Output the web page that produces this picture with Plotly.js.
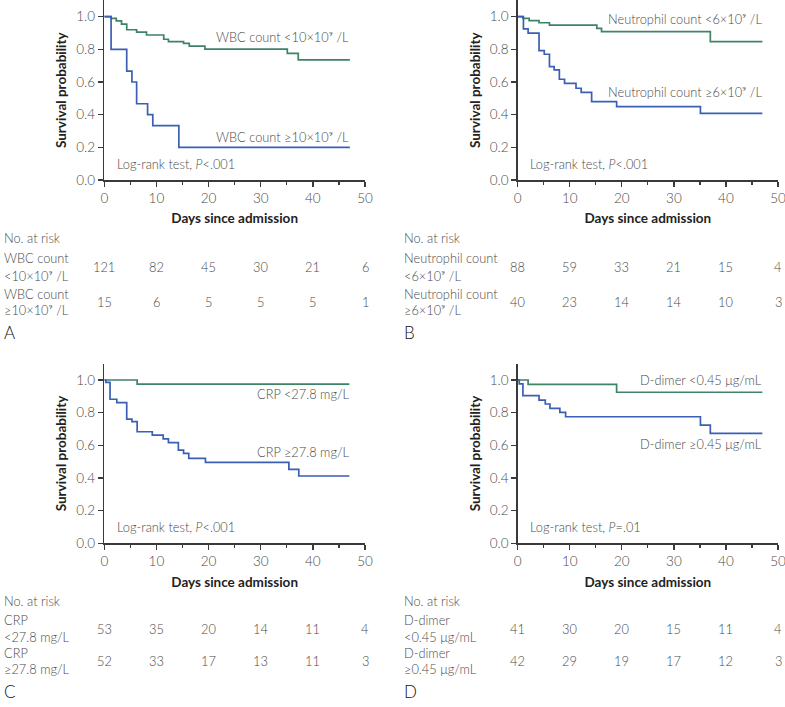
<!DOCTYPE html>
<html>
<head>
<meta charset="utf-8">
<script src="https://cdn.plot.ly/plotly-3.0.1.min.js"></script>
<style>html,body{margin:0;padding:0;background:#fff;}#chart{width:785px;height:707px;}</style>
</head>
<body>
<div id="chart"></div>
<script>
// ---- data ----
const riskDays = [0, 10, 20, 30, 40, 50];

// Panel A: WBC count
const timeA1 = [0, 1.3, 2.3, 3.3, 4.3, 6.2, 8.1, 11.4, 12.3, 15.2, 16.3, 19.3, 35.1, 37.2, 47.1];
const survA1 = [1.0, 0.99, 0.975, 0.955, 0.92, 0.905, 0.888, 0.862, 0.847, 0.837, 0.82, 0.802, 0.776, 0.735, 0.735];
const timeA2 = [0, 1.3, 4.3, 5.3, 6.2, 8.3, 9.3, 14.3, 47.1];
const survA2 = [1.0, 0.8, 0.667, 0.6, 0.467, 0.4, 0.333, 0.2, 0.2];
const riskA1 = [121, 82, 45, 30, 21, 6];
const riskA2 = [15, 6, 5, 5, 5, 1];

// Panel B: Neutrophil count
const timeB1 = [0, 1.0, 2.2, 4.1, 6.1, 15.2, 16.1, 37.0, 47.0];
const survB1 = [1.0, 0.99, 0.976, 0.963, 0.949, 0.929, 0.908, 0.847, 0.847];
const timeB2 = [0, 1.1, 2.0, 4.1, 5.1, 6.1, 7.0, 8.0, 9.0, 11.2, 12.2, 14.2, 19.0, 35.1, 47.0];
const survB2 = [1.0, 0.925, 0.9, 0.792, 0.77, 0.694, 0.674, 0.617, 0.592, 0.562, 0.537, 0.48, 0.449, 0.408, 0.408];
const riskB1 = [88, 59, 33, 21, 15, 4];
const riskB2 = [40, 23, 14, 14, 10, 3];

// Panel C: CRP
const timeC1 = [0, 6.3, 47.0];
const survC1 = [1.0, 0.975, 0.975];
const timeC2 = [0, 0.3, 1.1, 2.4, 4.3, 5.3, 6.3, 9.2, 11.3, 12.3, 14.2, 15.2, 16.2, 19.4, 35.4, 37.3, 47.0];
const survC2 = [1.0, 0.985, 0.882, 0.861, 0.761, 0.745, 0.683, 0.663, 0.639, 0.616, 0.571, 0.551, 0.52, 0.496, 0.453, 0.412, 0.412];
const riskC1 = [53, 35, 20, 14, 11, 4];
const riskC2 = [52, 33, 17, 13, 11, 3];

// Panel D: D-dimer
const timeD1 = [0, 2.0, 19.0, 47.0];
const survD1 = [1.0, 0.973, 0.925, 0.925];
const timeD2 = [0, 0.3, 1.0, 4.1, 5.3, 6.2, 8.1, 9.2, 35.1, 37.0, 47.0];
const survD2 = [1.0, 0.976, 0.904, 0.877, 0.853, 0.826, 0.802, 0.775, 0.724, 0.673, 0.673];
const riskD1 = [41, 30, 20, 15, 11, 4];
const riskD2 = [42, 29, 19, 17, 12, 3];

// labels
const curveLabels = [
  ['WBC count &lt;10×10⁹ /L', 'WBC count ≥10×10⁹ /L', 'Log-rank test, <i>P</i>&lt;.001'],
  ['Neutrophil count &lt;6×10⁹ /L', 'Neutrophil count ≥6×10⁹ /L', 'Log-rank test, <i>P</i>&lt;.001'],
  ['CRP &lt;27.8 mg/L', 'CRP ≥27.8 mg/L', 'Log-rank test, <i>P</i>&lt;.001'],
  ['D-dimer &lt;0.45 μg/mL', 'D-dimer ≥0.45 μg/mL', 'Log-rank test, <i>P</i>=.01']
];
const curveLabelY = [[0.877, 0.261], [0.984, 0.541], [0.912, 0.561], [1.0, 0.606]];
const riskLabels = [
  [['WBC count', '&lt;10×10⁹ /L'], ['WBC count', '≥10×10⁹ /L']],
  [['Neutrophil count', '&lt;6×10⁹ /L'], ['Neutrophil count', '≥6×10⁹ /L']],
  [['CRP', '&lt;27.8 mg/L'], ['CRP', '≥27.8 mg/L']],
  [['D-dimer', '&lt;0.45 μg/mL'], ['D-dimer', '≥0.45 μg/mL']]
];
const panelLetters = ['A', 'B', 'C', 'D'];

// ---- layout geometry ----
const W = 785, H = 707;
const FONT = 'Lato, "Open Sans", sans-serif';
const FS = 12.8;
const FW = 300;
const TXT = '#4a4a4a';
const AX = '#3a3a3a';
const GREEN = '#3f8366';
const BLUE = '#3a5fb5';
const tf = () => ({family: FONT, size: FS, color: TXT, weight: FW});

const panels = [
  {t1: timeA1, s1: survA1, t2: timeA2, s2: survA2, r1: riskA1, r2: riskA2, x0: 104.3, x1: 365, yb: 180, labX: 2, head: 238, row1: [258, 276, 267], row2: [294, 310, 302], letY: 333},
  {t1: timeB1, s1: survB1, t2: timeB2, s2: survB2, r1: riskB1, r2: riskB2, x0: 517.7, x1: 778, yb: 180, labX: 402, head: 238, row1: [258, 276, 267], row2: [294, 310, 302], letY: 333},
  {t1: timeC1, s1: survC1, t2: timeC2, s2: survC2, r1: riskC1, r2: riskC2, x0: 104.3, x1: 365, yb: 543.3, labX: 2, head: 601, row1: [620, 637, 629], row2: [653, 669, 661], letY: 691},
  {t1: timeD1, s1: survD1, t2: timeD2, s2: survD2, r1: riskD1, r2: riskD2, x0: 517.7, x1: 778, yb: 543.3, labX: 402, head: 601, row1: [620, 637, 629], row2: [653, 669, 661], letY: 691}
];
const PX_PER_UNIT = 163.3;
const YMAX = 1.1;

const traces = [];
const annotations = [];
const layout = {
  width: W, height: H,
  margin: {l: 0, r: 0, t: 0, b: 0},
  paper_bgcolor: '#fff', plot_bgcolor: '#fff',
  showlegend: false,
  font: tf(),
  annotations: annotations
};

function paperText(x, y, text, font) {
  annotations.push({xref: 'paper', yref: 'paper', x: x / W, y: 1 - y / H, text: text, showarrow: false, xanchor: 'left', yanchor: 'middle', align: 'left', font: font || tf()});
}

panels.forEach((p, i) => {
  const n = i + 1;
  const xa = 'xaxis' + (n === 1 ? '' : n);
  const ya = 'yaxis' + (n === 1 ? '' : n);
  const xr = 'x' + (n === 1 ? '' : n);
  const yr = 'y' + (n === 1 ? '' : n);
  const yTopPx = p.yb - YMAX * PX_PER_UNIT;

  layout[xa] = {
    domain: [p.x0 / W, p.x1 / W], anchor: yr, range: [0, 50],
    tickvals: riskDays, ticks: 'outside', ticklen: 5, tickwidth: 1.3, tickcolor: AX,
    minor: {dtick: 5, tick0: 0, ticks: 'outside', ticklen: 3, tickwidth: 1.2, tickcolor: AX},
    showline: true, linecolor: AX, linewidth: 1.5, showgrid: false, zeroline: false,
    tickfont: {family: FONT, size: 13.5, color: TXT, weight: FW}, ticklabeloverflow: 'allow',
    title: {text: 'Days since admission', font: {family: FONT, size: 13.5, color: '#222', weight: 'bold'}, standoff: 9},
    fixedrange: true
  };
  layout[ya] = {
    domain: [1 - p.yb / H, Math.min(1, 1 - yTopPx / H)], anchor: xr, range: [0, YMAX],
    tickvals: [0, 0.2, 0.4, 0.6, 0.8, 1.0], tickformat: '.1f',
    ticks: 'outside', ticklen: 5, tickwidth: 1.3, tickcolor: AX,
    showline: true, linecolor: AX, linewidth: 1.5, showgrid: false, zeroline: false,
    tickfont: {family: FONT, size: 13.5, color: TXT, weight: FW},
    title: {text: 'Survival probability', font: {family: FONT, size: 13.5, color: '#222', weight: 'bold'}, standoff: 6},
    fixedrange: true
  };

  traces.push({x: p.t1, y: p.s1, xaxis: xr, yaxis: yr, mode: 'lines', line: {shape: 'hv', color: GREEN, width: 1.7}, hoverinfo: 'skip'});
  traces.push({x: p.t2, y: p.s2, xaxis: xr, yaxis: yr, mode: 'lines', line: {shape: 'hv', color: BLUE, width: 1.7}, hoverinfo: 'skip'});

  // curve labels
  annotations.push({xref: xr, yref: yr, x: 47.3, y: curveLabelY[i][0], text: curveLabels[i][0], showarrow: false, xanchor: 'right', yanchor: 'middle', font: tf()});
  annotations.push({xref: xr, yref: yr, x: 47.3, y: curveLabelY[i][1], text: curveLabels[i][1], showarrow: false, xanchor: 'right', yanchor: 'middle', font: tf()});
  annotations.push({xref: xr, yref: yr, x: 2.0, y: 0.10, text: curveLabels[i][2], showarrow: false, xanchor: 'left', yanchor: 'middle', font: tf()});

  // risk table
  paperText(p.labX, p.head, 'No. at risk');
  paperText(p.labX, p.row1[0], riskLabels[i][0][0]);
  paperText(p.labX, p.row1[1], riskLabels[i][0][1]);
  paperText(p.labX, p.row2[0], riskLabels[i][1][0]);
  paperText(p.labX, p.row2[1], riskLabels[i][1][1]);
  riskDays.forEach((d, k) => {
    annotations.push({xref: xr, yref: 'paper', x: d, y: 1 - p.row1[2] / H, text: String(p.r1[k]), showarrow: false, xanchor: 'center', yanchor: 'middle', font: tf()});
    annotations.push({xref: xr, yref: 'paper', x: d, y: 1 - p.row2[2] / H, text: String(p.r2[k]), showarrow: false, xanchor: 'center', yanchor: 'middle', font: tf()});
  });
  paperText(p.labX, p.letY, panelLetters[i], {family: FONT, size: 17, color: '#111'});
});

Plotly.newPlot('chart', traces, layout, {staticPlot: true, displayModeBar: false});
</script>
</body>
</html>
